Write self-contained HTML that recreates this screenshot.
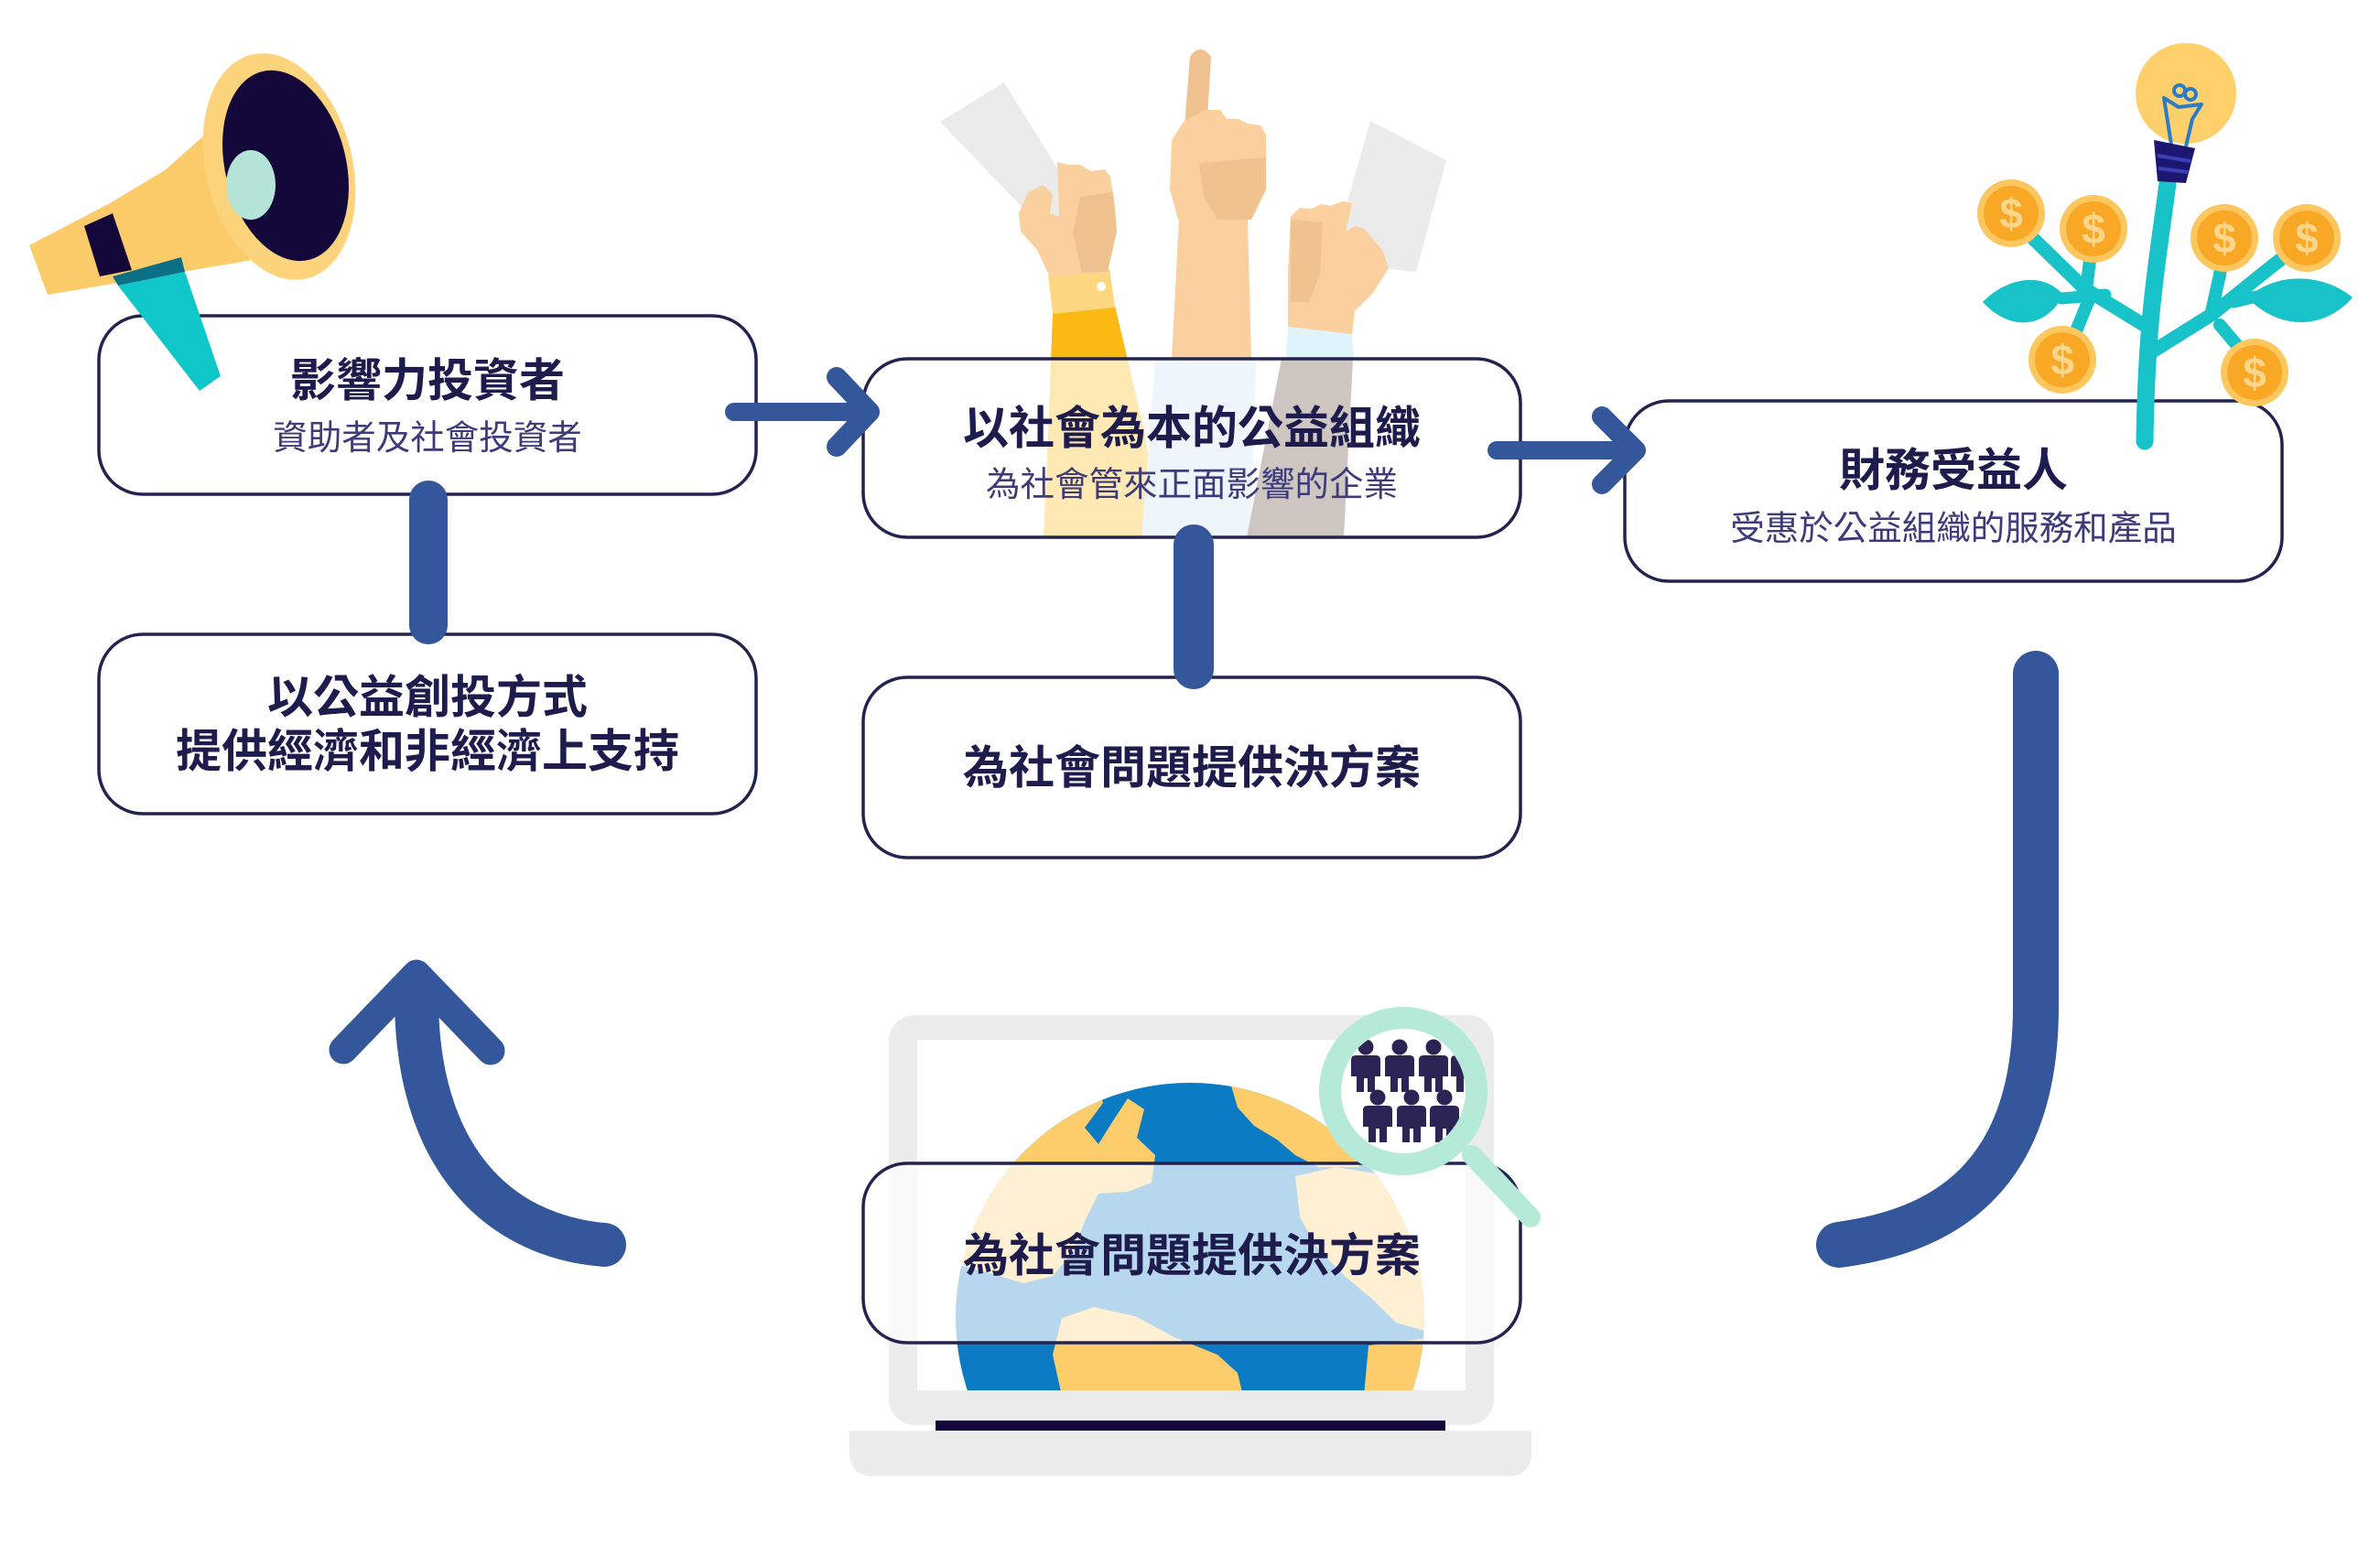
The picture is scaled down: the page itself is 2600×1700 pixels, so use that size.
<!DOCTYPE html>
<html><head><meta charset="utf-8">
<style>
html,body{margin:0;padding:0;background:#fff;}
svg{display:block;}
.t{font-family:"Liberation Sans","Noto Sans CJK TC",sans-serif;font-weight:700;font-size:50px;fill:#1e1c4d;text-anchor:middle;}
.s{font-family:"Liberation Sans","Noto Sans CJK TC",sans-serif;font-weight:400;font-size:37.5px;fill:#3d3b7a;text-anchor:middle;}
.d{font-family:"Liberation Sans",sans-serif;font-weight:700;font-size:46px;fill:#fdd68c;text-anchor:middle;}
</style></head><body>
<svg width="2600" height="1700" viewBox="0 0 2600 1700" xmlns="http://www.w3.org/2000/svg">
<defs>
<clipPath id="scr"><rect x="1002" y="1136" width="599" height="383"/></clipPath>
<clipPath id="glb"><circle cx="1300" cy="1439" r="256"/></clipPath>
<clipPath id="mag"><circle cx="1533" cy="1192" r="68"/></clipPath>
<g id="p" fill="#2c2454">
<circle cx="0" cy="8" r="8.5"/>
<path d="M-16,22 Q-16,17 -11,17 H11 Q16,17 16,22 V40 H10 V57 H2 V42 H-2 V57 H-10 V40 H-16 Z"/>
</g>
<g id="coin">
<circle cx="0" cy="0" r="37" fill="#fcc75e"/>
<circle cx="0" cy="0" r="30" fill="#f9a825"/>
<text class="d" x="0" y="16">$</text>
</g>
</defs>

<!-- Hands (behind box 2) -->
<polygon points="1027,133 1097,90 1180,224 1141,252" fill="#ebebeb"/>
<polygon points="1497,132 1580,175 1547,297 1453,287" fill="#ebebeb"/>
<polygon points="1150,341 1218,334 1250,470 1268,587 1140,587 1146,450" fill="#fbb913"/>
<polygon points="1145,300 1212,293 1218,336 1150,343" fill="#fdd77f"/>
<circle cx="1203" cy="313" r="5" fill="#fff"/>
<path d="M1113,233 L1123,210 L1140,202 L1150,213 L1147,233 L1157,237 L1155,177 L1167,180 L1180,180 L1192,187 L1207,185 L1213,193 L1218,227 L1220,253 L1213,280 L1210,297 L1147,303 L1133,273 L1115,253 Z" fill="#fbd09f"/>
<polygon points="1180,215 1216,210 1220,253 1210,297 1182,298 1172,255" fill="#f0c28f"/>
<polygon points="1262,392 1372,392 1366,587 1247,587" fill="#c8dff2"/>
<path d="M1288,240 L1363,240 L1367,392 L1280,392 Z" fill="#fbd09f"/>
<path d="M1300,62 Q1311,46 1323,62 L1317,163 L1292,163 Z" fill="#f0c28f"/>
<path d="M1280,153 L1293,133 L1317,120 L1333,120 L1340,130 L1353,130 L1363,135 L1377,137 L1383,147 L1383,207 L1367,240 L1287,240 L1278,207 Z" fill="#fbd09f"/>
<polygon points="1310,178 1383,172 1383,207 1367,240 1330,240 1315,215" fill="#f0c28f"/>
<polygon points="1400,392 1478,392 1468,587 1362,587" fill="#5e4737"/>
<polygon points="1407,357 1477,365 1479,392 1405,392" fill="#dff3fb"/>
<path d="M1407,297 L1410,237 L1420,227 L1433,228 L1443,223 L1453,225 L1467,220 L1477,222 L1470,253 L1480,247 L1490,250 L1510,273 L1517,293 L1500,320 L1480,340 L1477,365 L1407,357 Z" fill="#fbd09f"/>
<polygon points="1410,240 1445,243 1442,300 1430,330 1410,330" fill="#f0c28f"/>

<!-- Laptop + globe (behind box 6) -->
<rect x="971" y="1109" width="661" height="448" rx="28" fill="#ececec"/>
<rect x="1002" y="1136" width="599" height="383" fill="#fff"/>
<g clip-path="url(#scr)"><g clip-path="url(#glb)">
<rect x="1040" y="1180" width="522" height="345" fill="#0b7bc4"/>
<g fill="#fdcd6c">
<polygon points="1040,1300 1060,1250 1100,1212 1150,1192 1200,1186 1205,1205 1185,1232 1200,1250 1215,1226 1232,1200 1250,1212 1242,1243 1262,1262 1258,1292 1232,1302 1200,1304 1186,1332 1172,1368 1150,1394 1118,1402 1085,1392 1040,1380"/>
<polygon points="1160,1440 1195,1428 1240,1438 1285,1462 1330,1480 1352,1500 1358,1525 1160,1525 1150,1480"/>
<polygon points="1345,1186 1380,1190 1415,1205 1450,1228 1475,1255 1485,1275 1440,1275 1415,1262 1395,1245 1370,1230 1352,1210"/>
<polygon points="1415,1285 1460,1275 1520,1285 1560,1300 1560,1455 1525,1445 1500,1420 1470,1395 1440,1365 1420,1330"/>
<polygon points="1495,1470 1560,1462 1560,1525 1490,1525"/>
</g>
</g></g>
<rect x="1022" y="1552" width="557" height="11" fill="#14073a"/>
<path d="M928,1563 H1673 V1586 Q1673,1613 1646,1613 H955 Q928,1613 928,1586 Z" fill="#ececec"/>

<!-- Boxes -->
<g stroke="#22244f" stroke-width="3.5">
<rect x="108" y="345" width="718" height="195" rx="48" fill="#fff"/>
<rect x="943" y="392" width="718" height="195" rx="48" fill="#fff" fill-opacity="0.69"/>
<rect x="1775" y="438" width="718" height="197" rx="48" fill="#fff"/>
<rect x="108" y="693" width="718" height="196" rx="48" fill="#fff"/>
<rect x="943" y="740" width="718" height="197" rx="48" fill="#fff"/>
<rect x="943" y="1271" width="718" height="196" rx="48" fill="#fff" fill-opacity="0.7"/>
</g>

<!-- Megaphone -->
<polygon points="32,268 120,222 180,186 232,140 276,284 52,322" fill="#fccb6a"/>
<ellipse cx="305" cy="182" rx="80" ry="126" transform="rotate(-14 305 182)" fill="#fdd47c"/>
<ellipse cx="312" cy="181" rx="66" ry="106" transform="rotate(-14 312 181)" fill="#14073a"/>
<ellipse cx="274" cy="202" rx="27" ry="38" fill="#b4e4d5"/>
<polygon points="92,247 123,233 144,295 109,302" fill="#14073a"/>
<polygon points="123,302 198,281 202,297 129,312" fill="#0b6f86"/>
<polygon points="129,312 202,297 241,411 218,427" fill="#0fc6c9"/>

<!-- Money tree -->
<g fill="none" stroke="#17c2c8" stroke-linecap="round" stroke-linejoin="round">
<path d="M2368,200 C2358,280 2345,340 2343,482" stroke-width="19"/>
<polyline points="2342,355 2277,315 2205,245" stroke-width="15"/>
<polyline points="2279,316 2283,285 2286,255" stroke-width="14"/>
<polyline points="2283,325 2255,393" stroke-width="14"/>
<polyline points="2300,322 2252,326" stroke-width="13"/>
<polyline points="2350,385 2417,343 2483,290 2515,265" stroke-width="15"/>
<polyline points="2415,345 2425,300 2430,265" stroke-width="14"/>
<polyline points="2425,355 2463,400" stroke-width="14"/>
<polyline points="2440,330 2465,324" stroke-width="13"/>
</g>
<path d="M2254,322 C2230,295 2190,305 2166,330 C2195,362 2235,360 2254,322 Z" fill="#17c2c8"/>
<path d="M2455,325 C2490,295 2540,300 2570,325 C2540,360 2490,362 2455,325 Z" fill="#17c2c8"/>
<circle cx="2388" cy="102" r="55" fill="#fdd06c"/>
<g fill="none" stroke="#2a7cc7" stroke-width="4" stroke-linejoin="round">
<path d="M2372,158 L2364,107 L2380,117 L2405,114 L2395,130 L2388,160"/>
<circle cx="2381" cy="99" r="6"/>
<circle cx="2393" cy="103" r="6"/>
</g>
<polygon points="2353,153 2398,162 2388,200 2357,198" fill="#1c1670"/>
<g stroke="#3c3fb5" stroke-width="4"><line x1="2357" y1="170" x2="2393" y2="176"/><line x1="2358" y1="184" x2="2390" y2="188"/></g>
<use href="#coin" x="2197" y="233"/>
<use href="#coin" x="2287" y="250"/>
<use href="#coin" x="2430" y="260"/>
<use href="#coin" x="2520" y="260"/>
<use href="#coin" x="2253" y="393"/>
<use href="#coin" x="2463" y="407"/>

<!-- Magnifier -->
<line x1="1608" y1="1262" x2="1672" y2="1330" stroke="#b5ead8" stroke-width="22" stroke-linecap="round"/>
<circle cx="1533" cy="1192" r="80" fill="#fff" stroke="#b5ead8" stroke-width="24"/>
<g clip-path="url(#mag)">
<use href="#p" x="1492" y="1136"/>
<use href="#p" x="1529" y="1136"/>
<use href="#p" x="1566" y="1136"/>
<use href="#p" x="1601" y="1136"/>
<use href="#p" x="1505" y="1191"/>
<use href="#p" x="1542" y="1191"/>
<use href="#p" x="1578" y="1191"/>
</g>

<!-- Connectors -->
<g fill="none" stroke="#34569b" stroke-linecap="round" stroke-linejoin="round">
<line x1="802" y1="450" x2="946" y2="450" stroke-width="20"/>
<polyline points="914,412 950,450 914,488" stroke-width="22"/>
<line x1="1635" y1="492" x2="1783" y2="492" stroke-width="20"/>
<polyline points="1750,455 1787,492 1750,529" stroke-width="22"/>
<line x1="468" y1="546" x2="468" y2="683" stroke-width="42"/>
<line x1="1304" y1="595" x2="1304" y2="731" stroke-width="44"/>
<path d="M2224,736 L2224,1100 C2224,1290 2120,1345 2009,1360" stroke-width="50"/>
<path d="M660,1360 C540,1350 455,1260 455,1090" stroke-width="48"/>
<polyline points="375,1147 455,1064 536,1148" stroke-width="31"/>
</g>

<!-- Text -->
<text class="t" x="467" y="433">影響力投資者</text>
<text class="s" x="467" y="491">資助者及社會投資者</text>
<text class="t" x="1302" y="485">以社會為本的公益組織</text>
<text class="s" x="1302" y="542">為社會管來正面影響的企業</text>
<text class="t" x="2134" y="531">財務受益人</text>
<text class="s" x="2134" y="590">受惠於公益組織的服務和產品</text>
<text class="t" x="467" y="779">以公益創投方式</text>
<text class="t" x="467" y="838">提供經濟和非經濟上支持</text>
<text class="t" x="1302" y="856">為社會問題提供決方案</text>
<text class="t" x="1302" y="1389">為社會問題提供決方案</text>
</svg>
</body></html>
